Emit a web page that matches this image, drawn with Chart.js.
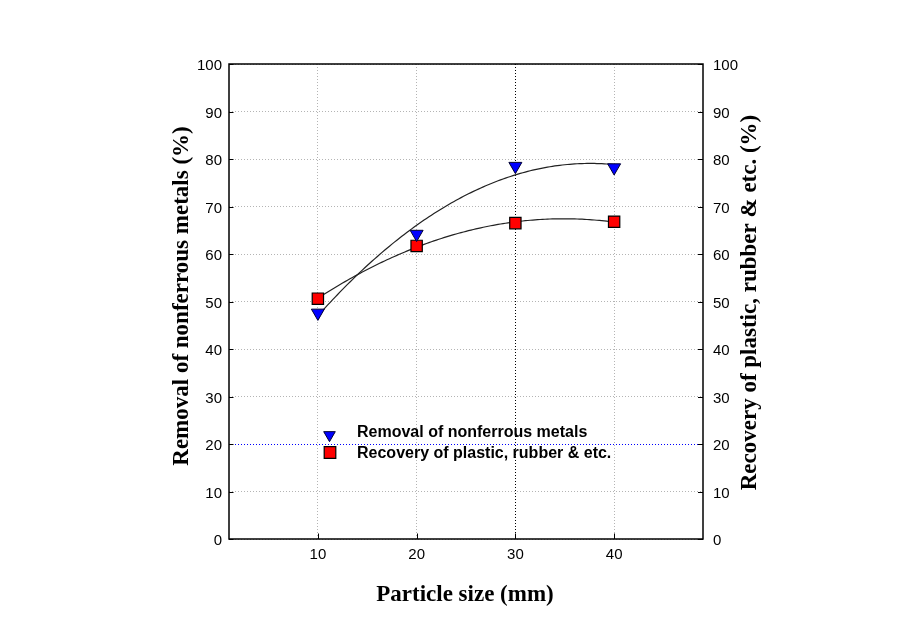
<!DOCTYPE html>
<html><head><meta charset="utf-8">
<script src="https://cdn.jsdelivr.net/npm/chart.js@4.4.0/dist/chart.umd.min.js"></script>
<style>html,body{margin:0;padding:0;background:#fff;} #wrap{width:913px;height:636px;position:relative;}</style>
</head><body><div id="wrap"><canvas id="c" width="913" height="636"></canvas></div>
<script>
// ---- data ----
const particleSizes = [10, 20, 30, 40];
const removalNonferrous = [47.6, 64.2, 78.5, 78.2];
const recoveryPlastic = [50.6, 61.7, 66.5, 66.8];
const xTicks = [10, 20, 30, 40];
const yTicks = [0, 10, 20, 30, 40, 50, 60, 70, 80, 90, 100];
const seriesLabels = ['Removal of nonferrous metals', 'Recovery of plastic, rubber & etc.'];
const leftTitle = 'Removal of nonferrous metals (%)';
const rightTitle = 'Recovery of plastic, rubber & etc. (%)';
const bottomTitle = 'Particle size (mm)';

Chart.defaults.font.family = '"Liberation Sans", Arial, sans-serif';
const tickFont = { family: '"Liberation Sans", Arial, sans-serif', size: 15 };
const titleFont = 'bold 23px "Liberation Serif", "Times New Roman", serif';
const legendFont = 'bold 16px "Liberation Sans", Arial, sans-serif';

function quadFit(xs, ys) {
  // least squares y = a + b x + c x^2
  let S = [[0,0,0],[0,0,0],[0,0,0]], T = [0,0,0];
  for (let i = 0; i < xs.length; i++) {
    const p = [1, xs[i], xs[i]*xs[i]];
    for (let r = 0; r < 3; r++) { T[r] += p[r]*ys[i]; for (let c = 0; c < 3; c++) S[r][c] += p[r]*p[c]; }
  }
  // gaussian elimination
  const M = S.map((row, i) => row.concat([T[i]]));
  for (let i = 0; i < 3; i++) {
    let piv = i; for (let k = i+1; k < 3; k++) if (Math.abs(M[k][i]) > Math.abs(M[piv][i])) piv = k;
    [M[i], M[piv]] = [M[piv], M[i]];
    for (let k = 0; k < 3; k++) if (k !== i) { const f = M[k][i]/M[i][i]; for (let j = i; j < 4; j++) M[k][j] -= f*M[i][j]; }
  }
  return [M[0][3]/M[0][0], M[1][3]/M[1][1], M[2][3]/M[2][2]];
}

const fitPlugin = {
  id: 'fitCurves',
  beforeDatasetsDraw(chart) {
    const ctx = chart.ctx, xs = chart.scales.x, ca = chart.chartArea;
    ctx.save();
    ctx.beginPath(); ctx.rect(ca.left, ca.top, ca.right-ca.left, ca.bottom-ca.top); ctx.clip();
    ctx.strokeStyle = '#222'; ctx.lineWidth = 1.2;
    chart.data.datasets.forEach(ds => {
      const ys = chart.scales[ds.yAxisID];
      const X = ds.data.map(p => p.x), Y = ds.data.map(p => p.y);
      const [a, b, c] = quadFit(X, Y);
      const x0 = Math.min(...X), x1 = Math.max(...X);
      ctx.beginPath();
      for (let k = 0; k <= 120; k++) {
        const xv = x0 + (x1 - x0)*k/120;
        const yv = a + b*xv + c*xv*xv;
        const px = xs.getPixelForValue(xv), py = ys.getPixelForValue(yv);
        if (k === 0) ctx.moveTo(px, py); else ctx.lineTo(px, py);
      }
      ctx.stroke();
    });
    ctx.restore();
  }
};

const decorPlugin = {
  id: 'decor',
  afterDraw(chart) {
    const ctx = chart.ctx, ca = chart.chartArea;
    const xs = chart.scales.x, ys = chart.scales.y;
    ctx.save();
    // frame
    ctx.strokeStyle = '#000'; ctx.lineWidth = 1.5;
    ctx.strokeRect(ca.left, ca.top, ca.right - ca.left, ca.bottom - ca.top);
    // inward ticks
    ctx.lineWidth = 1;
    ctx.beginPath();
    yTicks.forEach(v => {
      const py = Math.round(ys.getPixelForValue(v)) + 0.5;
      ctx.moveTo(ca.left, py); ctx.lineTo(ca.left + 4.5, py);
      ctx.moveTo(ca.right, py); ctx.lineTo(ca.right - 5, py);
    });
    xTicks.forEach(v => {
      const px = Math.round(xs.getPixelForValue(v)) + 0.5;
      ctx.moveTo(px, ca.bottom); ctx.lineTo(px, ca.bottom - 5.5);
    });
    ctx.stroke();

    // titles
    ctx.fillStyle = '#000';
    ctx.font = titleFont; ctx.textAlign = 'center'; ctx.textBaseline = 'middle';
    ctx.fillText(bottomTitle, (ca.left + ca.right)/2 - 1, 595);
    ctx.save(); ctx.translate(182.5, 296); ctx.rotate(-Math.PI/2); ctx.fillText(leftTitle, 0, 0); ctx.restore();
    ctx.save(); ctx.translate(750.5, 302.5); ctx.rotate(-Math.PI/2); ctx.fillText(rightTitle, 0, 0); ctx.restore();

    // legend
    const rows = [{mx: 329.5, my: 435, ty: 436.7}, {mx: 330, my: 452.5, ty: 458.3}];
    chart.data.datasets.forEach((ds, i) => {
      const r = rows[i];
      ctx.fillStyle = ds.pointBackgroundColor; ctx.strokeStyle = ds.pointBorderColor; ctx.lineWidth = ds.pointBorderWidth;
      Chart.helpers.drawPoint(ctx, {pointStyle: ds.pointStyle, rotation: ds.pointRotation, radius: i === 0 ? 6.7 : 8.2, borderWidth: ds.pointBorderWidth}, r.mx, r.my);
      ctx.fillStyle = '#000'; ctx.font = legendFont; ctx.textAlign = 'left'; ctx.textBaseline = 'alphabetic';
      ctx.fillText(ds.label, 357, r.ty);
    });
    ctx.restore();
  }
};

new Chart(document.getElementById('c'), {
  type: 'scatter',
  data: {
    datasets: [
      {
        label: seriesLabels[0],
        data: particleSizes.map((x, i) => ({x, y: removalNonferrous[i]})),
        yAxisID: 'y',
        pointStyle: 'triangle', pointRotation: 180, pointRadius: 7.5,
        pointBackgroundColor: '#0000ff', pointBorderColor: '#000033', pointBorderWidth: 1,
        showLine: false
      },
      {
        label: seriesLabels[1],
        data: particleSizes.map((x, i) => ({x, y: recoveryPlastic[i]})),
        yAxisID: 'y2',
        pointStyle: 'rect', pointRotation: 0, pointRadius: 8,
        pointBackgroundColor: '#ff0000', pointBorderColor: '#000', pointBorderWidth: 1.2,
        showLine: false
      }
    ]
  },
  options: {
    responsive: false, animation: false, devicePixelRatio: 1,
    layout: { padding: { top: 64, left: 0, right: 0, bottom: 0 } },
    plugins: { legend: { display: false }, tooltip: { enabled: false } },
    events: [],
    scales: {
      x: {
        type: 'linear', position: 'bottom', min: 1, max: 49,
        afterBuildTicks: s => { s.ticks = xTicks.map(v => ({value: v})); },
        afterFit: s => { s.height = 97; },
        ticks: { font: tickFont, color: '#000', padding: 7, maxRotation: 0, callback: v => String(v) },
        grid: { color: c => (c.tick && c.tick.value === 30) ? '#000000' : '#b4b4b4', lineWidth: 1, drawTicks: false },
        border: { display: false, dash: [1, 2] }
      },
      y: {
        type: 'linear', position: 'left', min: 0, max: 100,
        afterBuildTicks: s => { s.ticks = yTicks.map(v => ({value: v})); },
        afterFit: s => { s.width = 229; },
        ticks: { font: tickFont, color: '#000', padding: 7, labelOffset: 2, callback: v => String(v) },
        grid: { color: c => (c.tick && c.tick.value === 20) ? '#0000ff' : '#b4b4b4', lineWidth: 1, drawTicks: false },
        border: { display: false, dash: [1, 2] }
      },
      y2: {
        type: 'linear', position: 'right', min: 0, max: 100,
        afterBuildTicks: s => { s.ticks = yTicks.map(v => ({value: v})); },
        afterFit: s => { s.width = 210; },
        ticks: { font: tickFont, color: '#000', padding: 10, labelOffset: 2, callback: v => String(v) },
        grid: { display: false, drawTicks: false },
        border: { display: false }
      }
    }
  },
  plugins: [fitPlugin, decorPlugin]
});
</script>
</body></html>
